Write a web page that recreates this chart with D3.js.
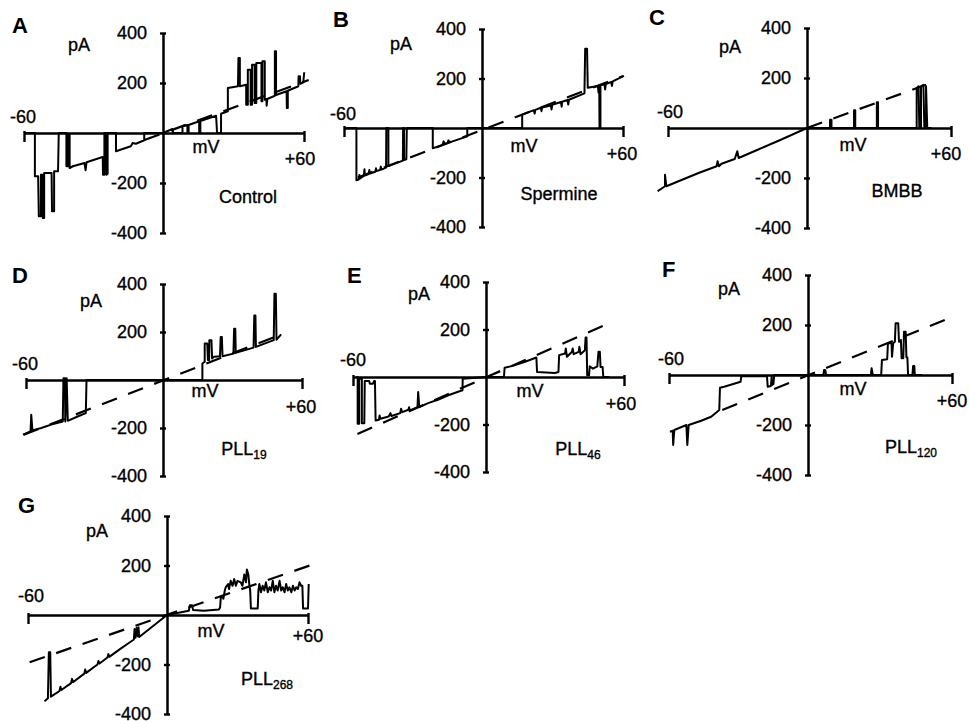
<!DOCTYPE html>
<html>
<head>
<meta charset="utf-8">
<script src="https://cdn.jsdelivr.net/npm/d3@7/dist/d3.min.js"></script>
<style>
  body { margin: 0; background: #fff; }
  svg { display: block; background: #fff; }
  text { font-family: 'Liberation Sans', Arial, Helvetica, sans-serif; fill: #000; }
  .lbl, .tick text { font-size: 18px; stroke: #000; stroke-width: 0.35px; }
  .letter { font-size: 22px; font-weight: bold; }
  .trace { fill: none; stroke: #000; stroke-width: 2; stroke-linejoin: round; }
  .dash { fill: none; stroke: #000; stroke-width: 2.2; stroke-dasharray: 16 12; }
</style>
</head>
<body>
<svg width="969" height="721"></svg>
<script>
const letters = ['A', 'B', 'C', 'D', 'E', 'F', 'G'];
const drugs = ['Control', 'Spermine', 'BMBB', 'PLL', 'PLL', 'PLL', 'PLL'];
const drugSub = ['', '', '', '19', '46', '120', '268'];
const yTicks = [-400, -200, 200, 400];
const xEnds = [-60, 60];

// traces: [mV, pA]
const traceA = [[-59.3,0],[-55.3,0],[-55.3,-173],[-53.9,-173],[-53.6,-333],[-52.7,-333],[-52.7,-167],[-52.1,-167],
  [-51.9,-340],[-51.3,-340],[-51.3,-160],[-48.1,-160],[-47.9,-313],[-47,-313],[-47,-153],[-45.3,-153],[-45,0],
  [-41.7,0],[-41.7,-133],[-41,-133],[-41,-7],[-40.3,-7],[-40.3,-140],[-38.9,-133],[-33.9,-120],[-33.4,-149],
  [-33,-117],[-27.4,-100],[-26,-96],[-25.9,-167],[-25.3,-167],[-25.3,0],[-24.6,0],[-24.4,-167],[-23.9,-163],
  [-23.9,0],[-20.3,0],[-20.3,-73],[-13.9,-53],[-13.1,-40],[-11.7,-43],[-8.1,-29],[-8.1,0],[0,0],[4,16],[4.4,0],
  [8.3,0],[8.3,27],[10.4,32],[10.4,0],[10.9,0],[10.9,32],[15.4,47],[15.4,0],[15.9,0],[15.9,48],[22.6,69],[23,0],
  [24.7,0],[24.7,77],[27.6,87],[27.6,180],[31.9,187],[32.1,300],[32.7,300],[32.7,187],[35.4,193],[35.4,113],
  [36.1,113],[36.1,253],[37.3,253],[37.3,113],[37.9,113],[37.9,273],[39,273],[39,120],[39.7,120],[39.7,280],
  [41.9,280],[41.9,127],[42.3,127],[42.3,287],[43.3,287],[43.3,133],[44,136],[44.1,109],[44.4,136],[47.6,149],
  [47.6,327],[48.1,327],[48.1,152],[52.6,167],[52.7,100],[53.1,100],[53.1,169],[57.6,187],[57.7,227],[58.3,227],
  [58.4,197],[59.7,203],[60.1,243]];
const traceB = [[-59,0],[-54.6,0],[-54.6,-211],[-53.6,-208],[-53.3,-190],[-53,-204],[-51.4,-194],[-51.1,-167],
  [-50.9,-192],[-49.3,-186],[-49,-170],[-48.7,-184],[-46.4,-177],[-46.1,-163],[-45.9,-174],[-44.3,-170],[-44,-156],
  [-43.7,-168],[-41.7,-160],[-41.6,0],[-40.7,0],[-40.7,-154],[-34.4,-132],[-34.3,0],[-33.9,0],[-33.9,-129],
  [-32.9,-126],[-32.7,0],[-21.4,0],[-21.4,-82],[-17.1,-68],[-16.7,-54],[-16.1,-64],[-15,-61],[-14.6,-50],
  [-14.1,-58],[-6.4,-34],[-6.4,0],[17.1,0],[17.1,54],[22.1,72],[22.4,58],[22.7,73],[25,82],[25.3,68],[25.6,83],
  [29.3,91],[29.6,75],[29.9,94],[33.6,105],[33.9,86],[34.1,106],[36.4,113],[36.7,95],[37,114],[43.6,140],
  [43.9,320],[44.7,320],[45,163],[49.3,170],[49.6,143],[49.9,173],[50,0],[50.4,0],[50.4,173],[52.1,177],
  [52.4,156],[52.7,178],[55,186],[55.3,170],[55.6,188],[60.4,211]];
const traceC = [[-64.5,-253],[-61.3,-233],[-61.3,-187],[-60.7,-233],[-53.9,-207],[-46.8,-180],[-39,-153],
  [-38.6,-133],[-38,-153],[-36.9,-143],[-31.2,-124],[-30.1,-93],[-29.5,-120],[-21.3,-87],[-11.3,-47],[0,0],
  [9.6,0],[9.6,33],[10.2,33],[10.2,0],[19.6,0],[19.6,71],[20.1,71],[20.1,0],[29.1,0],[29.1,103],[29.6,103],
  [29.6,0],[45.7,0],[45.7,160],[46.5,167],[46.8,0],[47.5,0],[47.5,167],[48.5,173],[48.9,0],[49.6,0],[49.6,167],
  [50.1,0],[52,0]];
const traceD = [[-61.3,-228],[-58,-214],[-57.7,-145],[-57.2,-210],[-53.3,-200],[-49,-186],[-43.9,-173],[-43.6,7],
  [-42.9,7],[-42.8,-173],[-42.2,7],[-41.7,-170],[-37.4,-152],[-33.8,-138],[-33.5,0],[17,0],[17,69],[18,76],
  [18,152],[19.1,152],[19.4,83],[19.9,83],[20,166],[20.9,166],[21.2,90],[22,97],[24.6,99],[24.9,179],[25.4,179],
  [25.7,99],[30.4,110],[30.7,214],[31.2,214],[31.4,113],[39.1,135],[39.4,269],[39.9,269],[40.1,138],[47.8,166],
  [48.1,359],[48.7,359],[49,168],[51,190]];
const traceE = [[-58.6,0],[-57.9,0],[-57.9,-197],[-57.2,-197],[-57.2,-7],[-56,-7],[-56,-195],[-54.9,-195],
  [-54.7,-17],[-52.7,-17],[-52.4,-28],[-51,-28],[-50.5,-17],[-50.1,-17],[-49.8,-183],[-48.3,-180],[-48,-162],
  [-47.6,-176],[-43.9,-166],[-43.1,-152],[-42.7,-164],[-38.7,-152],[-38.3,-134],[-37.8,-148],[-35,-138],
  [-34.7,-127],[-34.3,-141],[-30.9,-127],[-30.6,-63],[-30.1,-127],[-26.1,-110],[-21.7,-96],[-17.3,-78],
  [-12.9,-63],[-10.6,-56],[-10.5,-7],[0,0],[7.8,0],[8.1,39],[12.3,49],[16.7,63],[21.9,82],[22.2,21],[30,17],
  [31.5,21],[31.8,92],[34.4,99],[34.7,120],[35.2,85],[37.4,106],[37.7,120],[38.1,96],[40.3,106],[40.6,127],
  [41.1,96],[43,113],[43.3,166],[43.7,166],[44,7],[44.8,7],[45.1,45],[46.5,35],[48.4,45],[48.9,106],[49.5,106],
  [49.8,42],[50.7,42],[51,0],[53.6,0]];
const traceF = [[-59.6,-227],[-58.4,-223],[-58.2,-280],[-57.7,-220],[-52.5,-200],[-52.1,-280],[-51.5,-200],
  [-46.1,-183],[-41.8,-167],[-38.3,-140],[-38,-51],[-36.2,-47],[-30.5,-31],[-29.1,-27],[-28.8,-5],[-17.7,-5],
  [-17.4,-47],[-16,-44],[-15.7,-7],[-15.5,-40],[-14.9,-36],[-14.6,0],[0,0],[6.4,0],[6.7,20],[7.2,20],[7.5,0],
  [26.2,0],[26.5,27],[27,0],[30.5,0],[30.8,60],[33,63],[33.3,127],[34.8,127],[35,73],[35.5,127],[36.2,133],
  [36.5,207],[37.6,207],[37.9,133],[38.3,133],[38.7,140],[39,67],[39.7,67],[40,173],[40.7,173],[41,71],[41.4,71],
  [41.7,0],[43.5,0],[43.8,36],[44.3,36],[44.5,0],[47.5,0]];
const traceG = [[-52.9,-349],[-51.4,-336],[-51,-151],[-50.4,-151],[-50.1,-330],[-46.4,-307],[-46,-290],
  [-45.6,-303],[-41.4,-275],[-41,-258],[-40.6,-272],[-35.7,-237],[-35.3,-220],[-34.9,-234],[-30,-200],
  [-29.6,-186],[-29.1,-196],[-25.7,-172],[-25.3,-158],[-24.9,-169],[-20,-136],[-17.1,-117],[-14.3,-99],[-14,-57],
  [-13.6,-92],[-13.1,-51],[-12.6,-86],[-12.3,-49],[-12,-89],[0,0],[9.3,17],[9.7,39],[10.7,39],[11.1,20],
  [15.7,17],[22.1,22],[22.6,30],[22.9,72],[23.6,72],[24,66],[24.6,99],[25,112],[26,125],[26.4,105],[27.1,138],
  [27.9,118],[28.6,145],[29.3,118],[30,138],[31.4,132],[32.1,118],[32.9,164],[33.6,132],[34,184],[34.6,164],
  [35,125],[35.4,99],[35.7,26],[38.6,26],[38.9,99],[39.3,125],[40,92],[40.7,118],[41.4,99],[42.1,132],[42.9,92],
  [43.6,112],[44.3,99],[45,138],[45.7,92],[46.4,118],[47.1,99],[47.9,138],[48.6,99],[49.3,112],[50,92],
  [50.7,125],[51.4,99],[52.1,112],[52.9,92],[53.6,118],[54.3,99],[55,112],[55.7,105],[56.4,132],[57.1,118],
  [57.6,118],[57.9,26],[60,26],[60.3,125]];

// dashed open-channel lines
const dashA = [[-8, -28], [62, 212]];
const dashB = [[-54, -200], [60, 210]];
const dashC = [[0, 0], [49.6, 173]];
const dashD = [[-61, -228], [51, 190]];
const dashE = [[-58, -240], [55, 233]];
const dashF = [[-37, -140], [60, 232]];
const dashG = [[-59.3, -191], [62, 204]];

const traces = [traceA, traceB, traceC, traceD, traceE, traceF, traceG];
const dashes = [dashA, dashB, dashC, dashD, dashE, dashF, dashG];

// where each panel sits on the page (origin, axis ends, half height, text spots)
const frames = [
  {ox: 163, oy: 133, xl: 24, xr: 304, h: 100, letter: [12, 33], pA: [79, 51], mV: [206, 153], m60: [23, 123], p60: [300, 165], drug: [248, 203]},
  {ox: 482, oy: 128, xl: 344, xr: 623, h: 99, letter: [333, 27], pA: [401, 50], mV: [524, 152], m60: [343, 120], p60: [622, 160], drug: [559, 200]},
  {ox: 807, oy: 128, xl: 668, xr: 951, h: 100, letter: [649, 25], pA: [730, 53], mV: [853, 151], m60: [670, 118], p60: [946, 160], drug: [897, 197]},
  {ox: 163, oy: 380, xl: 26, xr: 302, h: 96, letter: [12, 283], pA: [91, 307], mV: [205, 397], m60: [25, 370], p60: [301, 413], drug: [244, 455]},
  {ox: 486, oy: 377, xl: 353, xr: 624, h: 95, letter: [347, 283], pA: [419, 300], mV: [530, 397], m60: [353, 366], p60: [621, 410], drug: [578, 455]},
  {ox: 808, oy: 375, xl: 669, xr: 952, h: 100, letter: [662, 277], pA: [729, 295], mV: [853, 395], m60: [671, 365], p60: [952, 407], drug: [911, 453]},
  {ox: 167, oy: 615, xl: 28, xr: 308, h: 99, letter: [18, 513], pA: [97, 537], mV: [211, 637], m60: [31, 602], p60: [308, 642], drug: [267, 685]}
];

const svg = d3.select('svg');

frames.forEach((f, i) => {
  const x = d3.scaleLinear().domain([-60, 0, 60]).range([f.xl, f.ox, f.xr]);
  const y = d3.scaleLinear().domain([-400, 400]).range([f.oy + f.h, f.oy - f.h]);
  const g = svg.append('g');

  const line = d3.line().x(d => x(d[0])).y(d => y(d[1]));

  g.append('path')
    .attr('class', 'dash')
    .attr('d', line(dashes[i]));

  // x axis: only end ticks at -60 / +60
  const xAxis = g.append('g')
    .attr('transform', `translate(0, ${y(0)})`)
    .call(d3.axisBottom(x).tickValues(xEnds).tickSize(9).tickSizeOuter(0).tickFormat(''));
  xAxis.selectAll('line').attr('y1', -2).attr('stroke-width', 2.4);
  xAxis.select('.domain').attr('stroke-width', 2.5);

  // y axis
  const yAxis = g.append('g')
    .attr('transform', `translate(${x(0)}, 0)`)
    .call(d3.axisLeft(y).tickValues(yTicks).tickSize(3).tickPadding(13).tickSizeOuter(0).tickFormat(d => String(d)));
  yAxis.select('.domain').attr('stroke-width', 2.5);
  yAxis.selectAll('.tick line').attr('x1', 3).attr('stroke-width', 2.4);
  yAxis.attr('font-size', 18).attr('font-family', null);

  g.append('path')
    .attr('class', 'trace')
    .attr('d', line(traces[i]));

  g.append('text').attr('class', 'letter')
    .attr('x', f.letter[0]).attr('y', f.letter[1])
    .text(letters[i]);

  const lbl = (pos, s) => g.append('text').attr('class', 'lbl')
    .attr('x', pos[0]).attr('y', pos[1])
    .attr('text-anchor', 'middle')
    .text(s);

  lbl(f.pA, 'pA');
  lbl(f.mV, 'mV');
  lbl(f.m60, String(xEnds[0]));
  lbl(f.p60, '+' + xEnds[1]);

  const t = lbl(f.drug, drugs[i]);
  if (drugSub[i]) {
    t.append('tspan').attr('font-size', 12).attr('dy', 4).text(drugSub[i]);
  }
});
</script>
</body>
</html>
